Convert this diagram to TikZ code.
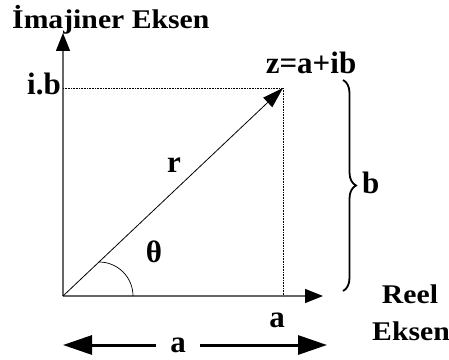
\documentclass[tikz,border=0pt]{standalone}
\usepackage{fontspec}
\setmainfont{Liberation Serif}
\newfontfamily\axisfont{Liberation Serif}[FakeStretch=1.1]
\usepackage{tikz}
\usetikzlibrary{arrows.meta,decorations.pathreplacing}

\begin{document}
\begin{tikzpicture}[x=1pt, y=1pt,
lbl/.style={font=\fontsize{31}{33}\selectfont\bfseries, inner sep=0pt},
axlbl/.style={font=\axisfont\fontsize{27}{29}\selectfont\bfseries, inner sep=0pt},
axis/.style={draw=black!60, line width=1.2pt, -{Triangle[length=18pt, width=14pt, color=black]}},
guide/.style={densely dotted, line width=0.6pt},
vec/.style={line width=0.8pt, -{Triangle[length=21pt, width=13pt]}},
span/.style={line width=3pt, -{Triangle[length=29pt, width=19pt]}}
]
\useasboundingbox (0,0) rectangle (449,359);

\coordinate (o) at (63,63);
\coordinate (z) at (283,271);
\coordinate (ytop) at (63,326);
\coordinate (xend) at (323,63);
\coordinate (ib) at (63,271);
\coordinate (ax) at (283,63);

\draw[axis] (o) -- (ytop);
\draw[axis] (o) -- (xend);

\draw[guide] (ib) -- (z);
\draw[guide] (z) -- (ax);

\draw[vec] (o) -- (z);
\draw[line width=0.7pt] (99,97) arc[start angle=90, end angle=0, radius=34];

\coordinate (btop) at (343,279);
\coordinate (bbot) at (343,68);
\draw[line width=1.8pt, decorate, decoration={brace, amplitude=13pt}] (btop) -- (bbot);

\node[axlbl, anchor=base west] (imag) at (12,330) {İmajiner Eksen};
\node[lbl, anchor=base east] (iblbl) at (61,264) {i.b};
\node[lbl, anchor=base] (zlbl) at (311,285) {z=a+ib};
\node[lbl, anchor=base] (rlbl) at (174,186) {r};
\node[lbl, anchor=base] (theta) at (154,97) {θ};
\node[lbl, anchor=base] (albl) at (277,32) {a};
\node[lbl, anchor=base west] (blbl) at (362,166) {b};
\node[axlbl, anchor=base] (reel) at (410,56) {Reel};
\node[axlbl, anchor=base] (eksen) at (411,19) {Eksen};

\node[lbl, inner xsep=14pt] (alen) at (178,14) {a};
\coordinate (aleft) at (63,14);
\coordinate (aright) at (327,14);
\draw[span] (alen.west) -- (aleft);
\draw[span] (alen.east) -- (aright);

\end{tikzpicture}
\end{document}
